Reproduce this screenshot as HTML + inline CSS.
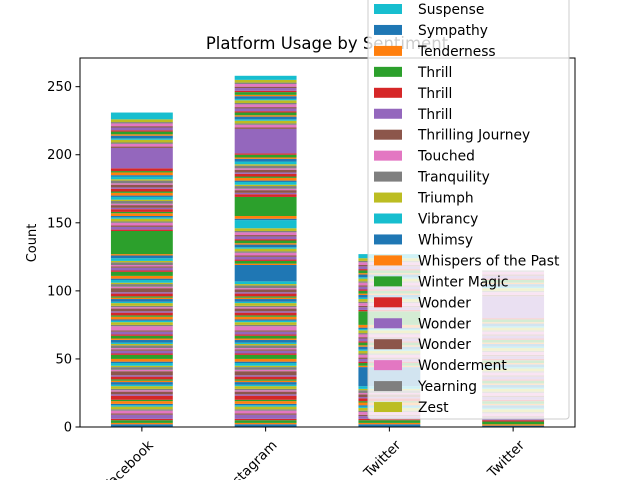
<!DOCTYPE html>
<html><head><meta charset="utf-8"><style>body{margin:0;background:#fff}svg{display:block;font-family:"DejaVu Sans","Liberation Sans",sans-serif}</style></head>
<body>
<svg id="chart" width="640" height="480">
<rect width="640" height="480" fill="#fff"/>
<g id="bars"></g>
<g id="axes"></g>
<text x="327" y="49" font-size="16.5" text-anchor="middle">Platform Usage by Sentiment</text>
<g id="legend"></g>
</svg>
<script>
const categories = ["Facebook","Instagram","Twitter"," Twitter"];
const fbValues = [2,1,2,1,3,1,2,1,2,1, 1,2,1,3,1,2,1,1,2,1, 2,1,1,2,1,3,1,2,1,2, 1,2,3,1,2,1,1,2,1,1, 2,1,2,1,2,1,3,1,2,1, 1,2,1,2,1,2,1,1,2,1, 2,1,1,2,1,3,1,2,1,2, 1,2,3,1,2,1,1,2,1,2, 2,1,17,1,2,1,2,1,2,1, 1,2,1,2,1,2,1,2,1,2, 1,2,1,2,1,2,1,2,1,2, 1,2,1,2,15,1,2,1,2,1, 2,1,2,1,2,1,2,1,2,5];
const igValues = [2,1,2,1,3,1,2,1,2,1, 1,2,1,3,1,2,1,1,2,1, 2,1,1,2,1,3,1,2,1,2, 1,2,3,1,2,1,1,2,1,1, 2,1,2,1,2,1,3,1,2,1, 1,2,1,2,1,2,1,1,2,1, 2,1,1,2,1,2,1,2,1,2, 12,1,2,1,2,1,2,1,2,1, 2,1,2,1,2,1,2,1,2,6, 1,2,14,2,1,2,1,2,1,2, 1,2,1,2,1,2,1,2,1,2, 2,1,2,1,18,1,2,1,2,1, 2,1,2,1,2,1,2,1,2,1, 2,1,2,1,2,1,2,1,2,3];
const twValues = [2,1,2,1,2,1,2,1,2,1, 1,2,1,2,1,2,1,2,1,2, 14,1,2,1,2,1,2,1,2,1, 2,1,2,1,2,1,2,1,2,1, 1,2,10,1,2,1,2,1,2,1, 2,1,2,1,2,1,2,1,2,1, 2,1,2,1,2,1,2,1,2,3];
const tw2Values = [1,1,2,1,2,1,2,1,2,1, 2,1,2,1,2,1,2,1,2,1, 2,1,2,1,2,1,2,1,2,1, 2,1,2,1,2,1,2,1,2,1, 2,1,2,1,2,1,2,1,2,1, 2,1,2,1,16,1,2,1,2,1, 2,1,2,1,2,1,2,1];
const seriesByBar = [fbValues, igValues, twValues, tw2Values];
const yTicks = [0,50,100,150,200,250];
const legendLabels = ["Suspense","Sympathy","Tenderness","Thrill","Thrill","Thrill","Thrilling Journey","Touched","Tranquility","Triumph","Vibrancy","Whimsy","Whispers of the Past","Winter Magic","Wonder","Wonder","Wonder","Wonderment","Yearning","Zest"];
const legendColorIdx = [9,0,1,2,3,4,5,6,7,8,9,0,1,2,3,4,5,6,7,8];
const colors = ["#1f77b4","#ff7f0e","#2ca02c","#d62728","#9467bd","#8c564b","#e377c2","#7f7f7f","#bcbd22","#17becf"];

const NS = "http://www.w3.org/2000/svg";
const X0 = 80, X1 = 575, Y0 = 427, YTOP = 58;
const yScale = v => Y0 - v * 1.3613;
const step = (X1 - X0) / categories.length;
const xCenter = i => X0 + step * (i + 0.5);
const barW = step * 0.5;
function mk(tag, attrs, parent){const e=document.createElementNS(NS,tag);for(const k in attrs)e.setAttribute(k,attrs[k]);parent.appendChild(e);return e;}

const gb = document.getElementById('bars');
seriesByBar.forEach((vals, bi) => {
  let cum = 0;
  vals.forEach((v, si) => {
    const r = mk('rect', {x: xCenter(bi)-barW/2, y: yScale(cum+v), width: barW, height: yScale(cum)-yScale(cum+v), fill: colors[si%10]}, gb);
    
    
    cum += v;
  });
});

const ga = document.getElementById('axes');
const frame = mk('rect', {x:X0, y:YTOP, width:X1-X0, height:Y0-YTOP, fill:'none', stroke:'#000', 'stroke-width':1}, ga);


yTicks.forEach(t => {
  const y = yScale(t);
  mk('line', {x1:X0-4.5, x2:X0, y1:y, y2:y, stroke:'#000'}, ga);
  const tx = mk('text', {x:X0-8, y:y+4.5, 'font-size':13, 'text-anchor':'end'}, ga);
  tx.textContent = t;
  
  
});
const yl = mk('text', {x:0, y:0, 'font-size':13, 'text-anchor':'middle', transform:'translate(36,243) rotate(-90)'}, ga);
yl.textContent = 'Count';


categories.forEach((c, i) => {
  const x = xCenter(i);
  mk('line', {x1:x, x2:x, y1:Y0, y2:Y0+4.5, stroke:'#000'}, ga);
  const tx = mk('text', {x:0, y:0, 'font-size':13.5, 'text-anchor':'end', transform:`translate(${x+12},${Y0+19}) rotate(-45)`}, ga);
  tx.textContent = c;
  
  
});

const gl = document.getElementById('legend');
const lb = mk('rect', {x:368, y:-20, width:201, height:439, rx:3, fill:'rgba(255,255,255,0.8)', stroke:'#ccc'}, gl);


legendLabels.forEach((l, i) => {
  const y = 9 + i * 20.95;
  const p = mk('rect', {x:374, y:y-5, width:28, height:10, fill:colors[legendColorIdx[i]]}, gl);
  
  
  const t = mk('text', {x:418, y:y+5, 'font-size':13.8}, gl);
  t.textContent = l;
  
  
});
</script>
</body></html>
